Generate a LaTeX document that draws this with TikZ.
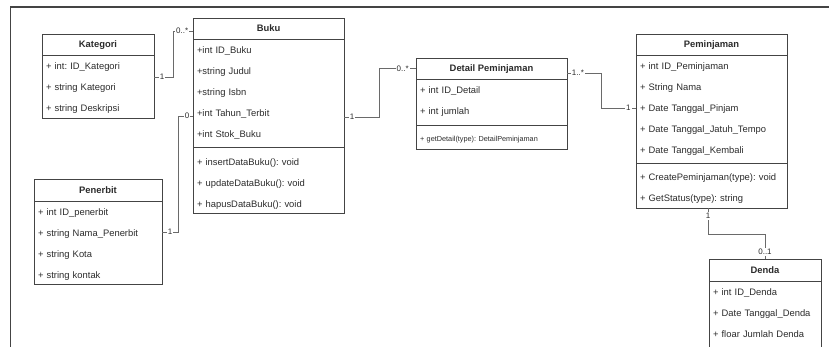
\documentclass[tikz,border=0pt]{standalone}
\usepackage{fontspec}
\setmainfont{Liberation Sans}
\frenchspacing
\usetikzlibrary{positioning}
\definecolor{boxgray}{HTML}{444444}
\definecolor{linegray}{HTML}{6A6A6A}
\definecolor{txtgray}{HTML}{2B2B2B}
\tikzset{
    clshead/.style={draw=boxgray, line width=0.9pt, inner sep=0pt, outer sep=0pt, anchor=north west,
        minimum height=21pt, text height=7pt, text depth=0pt, text=txtgray,
        font=\bfseries\fontsize{9.4}{11}\selectfont},
    clsbody/.style={draw=boxgray, line width=0.9pt, inner xsep=4pt, inner ysep=0pt, outer sep=0pt,
        align=left, text height=14.5pt, text=txtgray, font=\fontsize{9.4}{21}\selectfont, below=0pt of #1},
    mult/.style={fill=white, inner sep=1pt, text=txtgray, font=\fontsize{8}{9}\selectfont},
    assoc/.style={draw=linegray, line width=0.95pt},
}
\begin{document}
\begin{tikzpicture}[x=1pt, y=-1pt]
        \useasboundingbox (0,0) rectangle (829,347);
        \clip (0,0) rectangle (829,347);
        \draw[line width=1.4pt, draw=boxgray] (10.6,347) -- (10.6,7) -- (829,7);

        \node[clshead, minimum width=112pt] (kat) at (42,34) {Kategori};
        \node[clsbody=kat, text width=104pt, text depth=48.5pt] (kat-a)
            {+ int: ID\_Kategori\\+ string Kategori\\+ string Deskripsi};

        \node[clshead, minimum width=151pt] (buku) at (193,18) {Buku};
        \node[clsbody=buku, text width=143pt, text depth=93.5pt] (buku-a)
            {+int ID\_Buku\\+string Judul\\+string Isbn\\+int Tahun\_Terbit\\+int Stok\_Buku};
        \node[clsbody=buku-a, text width=143pt, text height=18.5pt, text depth=47.5pt] (buku-m)
            {+ insertDataBuku(): void\\+ updateDataBuku(): void\\+ hapusDataBuku(): void};

        \node[clshead, minimum width=128pt, minimum height=22pt] (pen) at (34,179) {Penerbit};
        \node[clsbody=pen, text width=120pt, text depth=68.5pt] (pen-a)
            {+ int ID\_penerbit\\+ string Nama\_Penerbit\\+ string Kota\\+ string kontak};

        \node[clshead, minimum width=151pt] (det) at (416,58) {Detail Peminjaman};
        \node[clsbody=det, text width=143pt, text depth=31.5pt] (det-a)
            {+ int ID\_Detail\\+ int jumlah};
        \node[clsbody=det-a, text width=143pt, text height=16.5pt, text depth=7.5pt,
            font=\fontsize{7.3}{9}\selectfont] (det-m)
            {+ getDetail(type): DetailPeminjaman};

        \node[clshead, minimum width=151pt] (pem) at (636,34) {Peminjaman};
        \node[clsbody=pem, text width=143pt, text depth=93.5pt] (pem-a)
            {+ int ID\_Peminjaman\\+ String Nama\\+ Date Tanggal\_Pinjam\\+ Date Tanggal\_Jatuh\_Tempo\\+ Date Tanggal\_Kembali};
        \node[clsbody=pem-a, text width=143pt, text height=17.5pt, text depth=27.5pt] (pem-m)
            {+ CreatePeminjaman(type): void\\+ GetStatus(type): string};

        \node[clshead, minimum width=112pt, minimum height=22pt] (den) at (709,259) {Denda};
        \node[clsbody=den, text width=104pt, text depth=55.5pt] (den-a)
            {+ int ID\_Denda\\+ Date Tanggal\_Denda\\+ floar Jumlah Denda};

        \draw[assoc] ([yshift=-22pt]kat-a.north east) -- node[mult, pos=0.42] {1} ++(19,0)
            |- node[mult, pos=0.73] {0..*} ([yshift=-13pt]buku.north west);
        \draw[assoc] ([yshift=-31pt]pen-a.north east) -- node[mult, pos=0.5] {1} ++(16,0)
            |- node[mult, pos=0.8] {0} ([yshift=-77pt]buku-a.north west);
        \draw[assoc] ([yshift=-78pt]buku-a.north east) -- node[mult, pos=0.23] {1} ++(35,0)
            |- node[mult, pos=0.82] {0..*} (det.west);
        \draw[assoc] ([yshift=-15pt]det.north east) -- node[mult, pos=0.32] {1..*} ++(34,0)
            |- node[mult, pos=0.89] {1} ([yshift=-53pt]pem-a.north west);
        \draw[assoc] ([xshift=-3.5pt]pem-m.south) -- node[mult, pos=0.31] {1} ++(0,26)
            -| node[mult, pos=0.86] {0..1} (den.north);
\end{tikzpicture}
\end{document}
